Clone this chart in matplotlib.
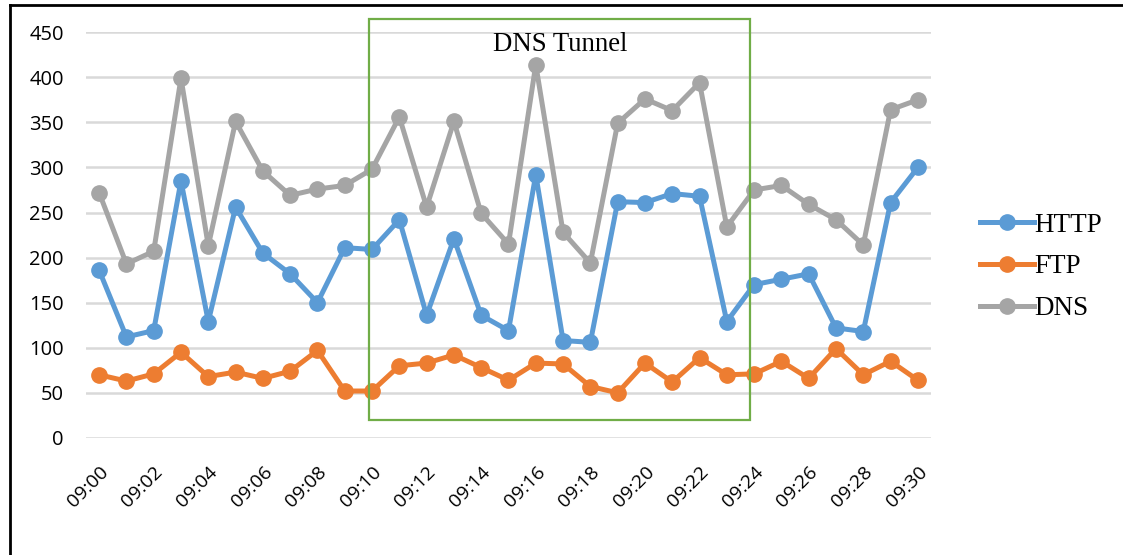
import matplotlib
matplotlib.use('Agg')
import matplotlib.pyplot as plt
from matplotlib.patches import Rectangle
from matplotlib.lines import Line2D

# minutes from 09:00 to 09:30
times = ['09:%02d' % m for m in range(31)]
http = [186, 112, 119, 285, 129, 256, 205, 182, 150, 211, 209, 242, 136, 221, 136, 119,
        292, 108, 106, 262, 261, 271, 268, 129, 170, 176, 182, 122, 118, 261, 300]
ftp = [70, 63, 71, 95, 68, 73, 66, 74, 97, 52, 52, 80, 83, 92, 78, 64,
       83, 82, 57, 50, 83, 62, 89, 70, 71, 85, 66, 99, 70, 85, 64]
dns = [272, 193, 207, 399, 213, 351, 296, 269, 276, 280, 298, 356, 256, 351, 249, 215,
       414, 228, 194, 349, 376, 363, 394, 234, 275, 280, 259, 242, 214, 364, 375]
yticks = [0, 50, 100, 150, 200, 250, 300, 350, 400, 450]

tick_font = 'Open Sans'
serif_font = 'Liberation Serif'

fig = plt.figure(figsize=(11.23, 5.55), dpi=100)
ax = fig.add_axes([0.0766, 0.211, 0.7524, 0.731])

x = list(range(len(times)))
ax.plot(x, http, color='#5B9BD5', lw=3.6, marker='o', ms=11, label='HTTP', zorder=3)
ax.plot(x, ftp, color='#ED7D31', lw=3.6, marker='o', ms=11, label='FTP', zorder=3)
ax.plot(x, dns, color='#A5A5A5', lw=3.6, marker='o', ms=11, label='DNS', zorder=3)

ax.set_xlim(-0.48, 30.48)
ax.set_ylim(0, 450)
ax.set_yticks(yticks)
ax.set_xticks(x[::2])
ax.set_xticklabels(times[::2], rotation=45, ha='right', rotation_mode='anchor',
                   fontsize=14, family=tick_font)
for lab in ax.get_yticklabels():
    lab.set_fontsize(14.5)
    lab.set_family(tick_font)
ax.tick_params(length=0)
ax.tick_params(axis='y', pad=16)
ax.tick_params(axis='x', pad=18)
ax.grid(axis='y', color='#D9D9D9', lw=1.8, zorder=0)
for s in ax.spines.values():
    s.set_visible(False)
ax.set_axisbelow(True)

# tunnel window
ax.add_patch(Rectangle((9.89, 20), 23.85 - 9.89, 444.5, fill=False,
                       edgecolor='#70AD47', lw=1.6, zorder=4, clip_on=False))
ax.text(16.9, 436, 'DNS Tunnel', ha='center', va='center', fontsize=19.3,
        family=serif_font)

leg = fig.legend(loc='center left', bbox_to_anchor=(0.851, 0.519), frameon=False,
                 prop={'family': serif_font, 'size': 19.5}, handlelength=2.0,
                 handletextpad=0.0, labelspacing=0.62)

# outer frame (left and top edges only)
fig.add_artist(Line2D([0.0085, 0.0085], [0.0, 0.991], color='black', lw=2,
                      transform=fig.transFigure))
fig.add_artist(Line2D([0.0085, 0.999], [0.991, 0.991], color='black', lw=2,
                      transform=fig.transFigure))

fig.savefig('out.png', dpi=100)
